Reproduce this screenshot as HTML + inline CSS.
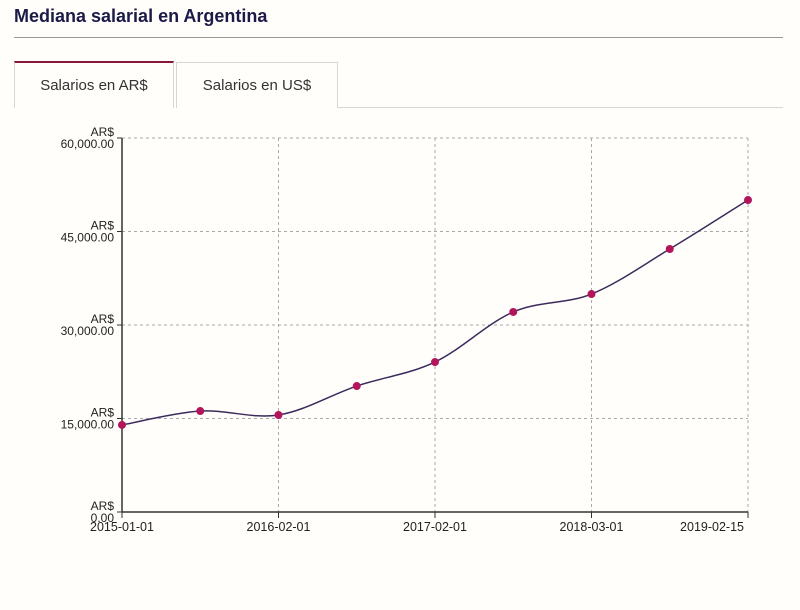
<!DOCTYPE html>
<html><head><meta charset="utf-8">
<style>
body{margin:0;background:#fffefa;width:800px;height:610px;overflow:hidden;font-family:"Liberation Sans",sans-serif;}
#title{position:absolute;left:14px;top:6px;font-size:18px;font-weight:bold;color:#1c1a48;}
#rule{position:absolute;left:14px;top:37px;width:769px;height:1px;background:#999;}
.tab{position:absolute;top:62px;height:45px;border:1px solid #d6d6d6;border-bottom:none;font-size:15px;color:#333;text-align:center;line-height:46px;background:#fffefa;}
#tab1{left:14px;width:158px;border-top:2px solid #8b1538;top:61px;}
#tab2{left:176px;width:160px;}
#tabline{position:absolute;left:337px;top:107px;width:446px;height:1px;background:#d6d6d6;}
svg{position:absolute;left:0;top:0;}
</style></head><body>
<div id="title">Mediana salarial en Argentina</div>
<div id="rule"></div>
<div class="tab" id="tab1">Salarios en AR$</div>
<div class="tab" id="tab2">Salarios en US$</div>
<div id="tabline"></div>
<svg id="chart" width="800" height="610"></svg>
<script>
const categories=["2015-01-01","2015-07-01","2016-02-01","2016-08-01","2017-02-01","2017-08-01","2018-03-01","2018-08-15","2019-02-15"];
const values=[13960,16200,15560,20210,24060,32090,34970,42190,50050];
const yTicks=[0,15000,30000,45000,60000];
const yTickLabels=["0.00","15,000.00","30,000.00","45,000.00","60,000.00"];
const xLabelIdx=[0,2,4,6,8];

const X0=122,X1=748,Y0=512,Y1=138;
const xs=i=>X0+(X1-X0)*i/(categories.length-1);
const ys=v=>Y0-(Y0-Y1)*v/60000;
const svg=document.getElementById('chart');
const NS='http://www.w3.org/2000/svg';
function mk(t,a){const e=document.createElementNS(NS,t);for(const k in a)e.setAttribute(k,a[k]);svg.appendChild(e);return e;}

yTicks.forEach((v,i)=>{
 const y=ys(v);
 if(v>0){const g=mk('line',{x1:X0,x2:X1,y1:y,y2:y,stroke:'#aaa','stroke-dasharray':'3,3'});
 
 }
 const tk=mk('line',{x1:X0-5,x2:X0,y1:y,y2:y,stroke:'#333'});
 
 
 const t=mk('text',{x:X0-8,y:y-2,'text-anchor':'end','font-size':'12',fill:'#222'});
 
 
 const a=document.createElementNS(NS,'tspan');a.setAttribute('x',X0-8);a.textContent='AR$';t.appendChild(a);
 const b=document.createElementNS(NS,'tspan');b.setAttribute('x',X0-8);b.setAttribute('dy','12');b.textContent=yTickLabels[i];t.appendChild(b);
});
xLabelIdx.forEach(i=>{
 const x=xs(i);
 if(i>0){const g=mk('line',{x1:x,x2:x,y1:Y1,y2:Y0,stroke:'#aaa','stroke-dasharray':'3,3'});
 
 }
 const tk=mk('line',{x1:x,x2:x,y1:Y0,y2:Y0+6,stroke:'#333'});
 
 
 const t=mk('text',{x:x,y:Y0+19,'text-anchor':i===8?'end':'middle','font-size':'12.5',fill:'#222'});
 if(i===8)t.setAttribute('x',x-4);
 
 
 t.textContent=categories[i];
});
const ya=mk('line',{x1:X0,x2:X0,y1:Y1,y2:Y0,stroke:'#333','stroke-width':1.5});


const xa=mk('line',{x1:X0,x2:X1,y1:Y0,y2:Y0,stroke:'#333','stroke-width':1.5});


// smooth line (catmull-rom)
const P=values.map((v,i)=>[xs(i),ys(v)]);
let d='M'+P[0][0]+','+P[0][1];
for(let i=0;i<P.length-1;i++){
 const p0=P[Math.max(0,i-1)],p1=P[i],p2=P[i+1],p3=P[Math.min(P.length-1,i+2)];
 const c1=[p1[0]+(p2[0]-p0[0])/6,p1[1]+(p2[1]-p0[1])/6],c2=[p2[0]-(p3[0]-p1[0])/6,p2[1]-(p3[1]-p1[1])/6];
 d+=` C${c1[0]},${c1[1]} ${c2[0]},${c2[1]} ${p2[0]},${p2[1]}`;
}
const ln=mk('path',{d:d,fill:'none',stroke:'#3b2a5c','stroke-width':1.5});


P.forEach(p=>{
 const c=mk('circle',{cx:p[0],cy:p[1],r:4,fill:'#b3155a'});
 
 
});
</script>
</body></html>
